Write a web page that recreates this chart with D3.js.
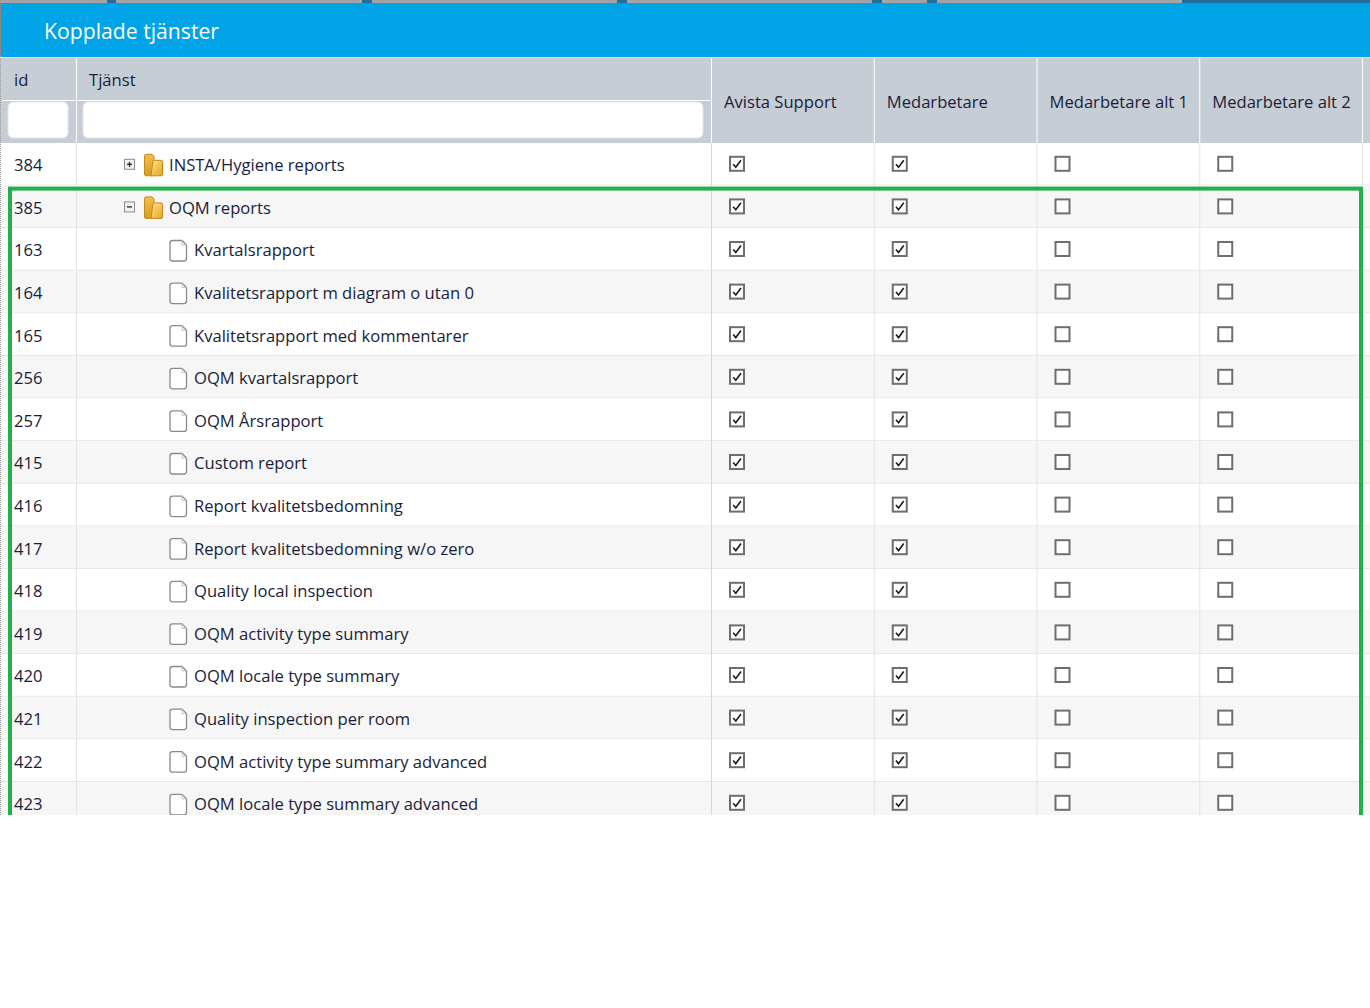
<!DOCTYPE html>
<html>
<head>
<meta charset="utf-8">
<script src="https://cdn.jsdelivr.net/npm/d3@7"></script>
<style>
  body { margin: 0; background: #fff; }
  svg { display: block; }
</style>
</head>
<body>
<div id="chart"></div>
<script>
// ---- data ----
const title = 'Kopplade tjänster';
const idHeader = 'id';
const nameHeader = 'Tjänst';
const roleColumns = ['Avista Support', 'Medarbetare', 'Medarbetare alt 1', 'Medarbetare alt 2'];

const ids = [384, 385, 163, 164, 165, 256, 257, 415, 416, 417, 418, 419, 420, 421, 422, 423];
const names = [
    'INSTA/Hygiene reports', 'OQM reports', 'Kvartalsrapport', 'Kvalitetsrapport m diagram o utan 0',
    'Kvalitetsrapport med kommentarer', 'OQM kvartalsrapport', 'OQM Årsrapport', 'Custom report',
    'Report kvalitetsbedomning', 'Report kvalitetsbedomning w/o zero', 'Quality local inspection',
    'OQM activity type summary', 'OQM locale type summary', 'Quality inspection per room',
    'OQM activity type summary advanced', 'OQM locale type summary advanced'
];
// 'folder-closed' | 'folder-open' | 'leaf'
const nodeTypes = [
    'folder-closed', 'folder-open', 'leaf', 'leaf', 'leaf', 'leaf', 'leaf', 'leaf',
    'leaf', 'leaf', 'leaf', 'leaf', 'leaf', 'leaf', 'leaf', 'leaf'
];
const avistaSupport     = [1, 1, 1, 1, 1, 1, 1, 1, 1, 1, 1, 1, 1, 1, 1, 1];
const medarbetare       = [1, 1, 1, 1, 1, 1, 1, 1, 1, 1, 1, 1, 1, 1, 1, 1];
const medarbetareAlt1   = [0, 0, 0, 0, 0, 0, 0, 0, 0, 0, 0, 0, 0, 0, 0, 0];
const medarbetareAlt2   = [0, 0, 0, 0, 0, 0, 0, 0, 0, 0, 0, 0, 0, 0, 0, 0];
const roleValues = [avistaSupport, medarbetare, medarbetareAlt1, medarbetareAlt2];
// rows wrapped by the green highlight frame
const highlightFrom = 385;

// ---- layout ----
const W = 1370, H = 1008;
const FONT = '"Open Sans", "Noto Sans", sans-serif';
const FS = 16.6;
const TEXT = '#1a1d38';
const barTop = 3, barBottom = 57;
const headTop = 57, headBottom = 143;
const clipBottom = 815;
const rowH = 42.6;
const idCol = [2, 76], nameCol = [76, 711];

const svg = d3.select('#chart').append('svg')
    .attr('width', W).attr('height', H)
    .attr('viewBox', `0 0 ${W} ${H}`);

const defs = svg.append('defs');
defs.append('clipPath').attr('id', 'table-clip')
    .append('rect').attr('x', 0).attr('y', 0).attr('width', W).attr('height', clipBottom);
const fg = defs.append('linearGradient').attr('id', 'folder-grad')
    .attr('x1', 0).attr('y1', 0).attr('x2', 1).attr('y2', 1);
fg.append('stop').attr('offset', '0%').attr('stop-color', '#ffe28a');
fg.append('stop').attr('offset', '100%').attr('stop-color', '#e6a526');
const fg2 = defs.append('linearGradient').attr('id', 'folder-back')
    .attr('x1', 0).attr('y1', 0).attr('x2', 0).attr('y2', 1);
fg2.append('stop').attr('offset', '0%').attr('stop-color', '#f3c14c');
fg2.append('stop').attr('offset', '100%').attr('stop-color', '#d89a1f');

const root = svg.append('g').attr('clip-path', 'url(#table-clip)');

// Scales
const yRow = d3.scaleBand().domain(ids.map(String))
    .range([headBottom, headBottom + ids.length * rowH]).padding(0);
const xRole = d3.scaleBand().domain(roleColumns).range([711, 1362]).padding(0);

// Top strip (window tabs behind the dialog)
const stripSegs = [[0, 107, '#a3a3a3'], [107, 116, '#1f6d9c'], [116, 362, '#a3a3a3'], [362, 372, '#1f6d9c'],
    [372, 617, '#a3a3a3'], [617, 627, '#1f6d9c'], [627, 872, '#a3a3a3'], [872, 882, '#1f6d9c'],
    [882, 927, '#a3a3a3'], [927, 937, '#1f6d9c'], [937, 1182, '#a3a3a3'], [1182, W, '#1f6d9c']];
root.selectAll('rect.strip').data(stripSegs).join('rect')
    .attr('class', 'strip')
    .attr('x', d => d[0]).attr('y', 0).attr('width', d => d[1] - d[0]).attr('height', barTop)
    .attr('fill', d => d[2]);

// Title bar
root.append('rect').attr('x', 0).attr('y', barTop).attr('width', W).attr('height', barBottom - barTop)
    .attr('fill', '#00a3e6');
root.append('text').attr('x', 44).attr('y', 39)
    .attr('font-family', FONT).attr('font-size', 21.2).attr('fill', '#fff')
    .text(title);

// Header
root.append('rect').attr('x', 0).attr('y', headTop).attr('width', W).attr('height', headBottom - headTop)
    .attr('fill', '#c6cdd5');
root.append('line').attr('x1', 0).attr('x2', W).attr('y1', headTop + 0.5).attr('y2', headTop + 0.5)
    .attr('stroke', '#e9edf1');
root.append('line').attr('x1', idCol[0]).attr('x2', nameCol[1]).attr('y1', 100.5).attr('y2', 100.5)
    .attr('stroke', '#ffffff');
const headSeps = [idCol[1], nameCol[1], ...roleColumns.map(c => xRole(c) + xRole.bandwidth())];
root.selectAll('line.hsep').data(headSeps).join('line')
    .attr('class', 'hsep')
    .attr('x1', d => d + 0.5).attr('x2', d => d + 0.5).attr('y1', headTop).attr('y2', headBottom)
    .attr('stroke', '#ffffff');

root.append('text').attr('x', 14).attr('y', 86)
    .attr('font-family', FONT).attr('font-size', FS).attr('fill', TEXT).text(idHeader);
root.append('text').attr('x', 89).attr('y', 86)
    .attr('font-family', FONT).attr('font-size', FS).attr('fill', TEXT).text(nameHeader);

// filter inputs
root.append('rect').attr('x', 8).attr('y', 102).attr('width', 60).attr('height', 36).attr('rx', 5)
    .attr('fill', '#fff').attr('stroke', '#e3e6ea');
root.append('rect').attr('x', 83).attr('y', 102).attr('width', 620).attr('height', 36).attr('rx', 5)
    .attr('fill', '#fff').attr('stroke', '#e3e6ea');

root.selectAll('text.role').data(roleColumns).join('text')
    .attr('class', 'role')
    .attr('x', d => xRole(d) + 13).attr('y', 108)
    .attr('font-family', FONT).attr('font-size', FS).attr('fill', TEXT)
    .text(d => d);

// Rows
const rows = ids.map((id, i) => ({
    id, name: names[i], type: nodeTypes[i], i,
    checks: roleValues.map(v => v[i])
}));

const rowG = root.selectAll('g.row').data(rows).join('g')
    .attr('class', 'row')
    .attr('transform', d => `translate(0,${yRow(String(d.id))})`);

rowG.append('rect').attr('x', 0).attr('y', 0).attr('width', W).attr('height', yRow.bandwidth())
    .attr('fill', d => d.i % 2 ? '#f6f6f6' : '#ffffff');
rowG.append('line').attr('x1', 0).attr('x2', W)
    .attr('y1', yRow.bandwidth() - 0.5).attr('y2', yRow.bandwidth() - 0.5)
    .attr('stroke', '#e6e6e6');

const cy = yRow.bandwidth() / 2;
rowG.append('text').attr('x', 14).attr('y', cy + 7)
    .attr('font-family', FONT).attr('font-size', FS).attr('fill', TEXT)
    .text(d => d.id);

// expand / collapse toggle + folder icon
const folders = rowG.filter(d => d.type !== 'leaf');
folders.append('rect').attr('x', 124.5).attr('y', cy - 5).attr('width', 10).attr('height', 10)
    .attr('fill', '#f2f2f2').attr('stroke', '#8c8c8c');
folders.append('line').attr('x1', 127).attr('x2', 132).attr('y1', cy).attr('y2', cy)
    .attr('stroke', '#222').attr('stroke-width', 1.3);
folders.filter(d => d.type === 'folder-closed').append('line')
    .attr('x1', 129.5).attr('x2', 129.5).attr('y1', cy - 2.5).attr('y2', cy + 2.5)
    .attr('stroke', '#222').attr('stroke-width', 1.3);

folders.append('path')
    .attr('d', `M146,${cy - 10} h6 l2,2 v18 a1.5,1.5 0 0 1 -1.5,1.5 h-6.5 a1.5,1.5 0 0 1 -1.5,-1.5 v-18.5 a1.5,1.5 0 0 1 1.5,-1.5 z`)
    .attr('fill', 'url(#folder-back)').attr('stroke', '#c7891a').attr('stroke-width', 1);
folders.append('path')
    .attr('d', `M153,${cy - 4} h8 a1.5,1.5 0 0 1 1.5,1.5 v12.5 a1.5,1.5 0 0 1 -1.5,1.5 h-10 z`)
    .attr('fill', 'url(#folder-grad)').attr('stroke', '#c7891a').attr('stroke-width', 1);

// leaf document icon
const leaves = rowG.filter(d => d.type === 'leaf');
leaves.append('path')
    .attr('d', `M172.5,${cy - 9} h9.5 l4.5,4.5 v13.5 a2.5,2.5 0 0 1 -2.5,2.5 h-11.5 a2.5,2.5 0 0 1 -2.5,-2.5 v-15.5 a2.5,2.5 0 0 1 2.5,-2.5 z`)
    .attr('fill', '#ffffff').attr('stroke', '#8a8a8a').attr('stroke-width', 1.3);
leaves.append('path')
    .attr('d', `M182,${cy - 9} v4.5 h4.5`)
    .attr('fill', 'none').attr('stroke', '#c0c0c0').attr('stroke-width', 1);

rowG.append('text')
    .attr('x', d => d.type === 'leaf' ? 194 : 169).attr('y', cy + 7)
    .attr('font-family', FONT).attr('font-size', FS).attr('fill', TEXT)
    .text(d => d.name);

// checkboxes
const cells = rowG.selectAll('g.cell')
    .data(d => d.checks.map((c, k) => ({ col: roleColumns[k], checked: c })))
    .join('g').attr('class', 'cell')
    .attr('transform', d => `translate(${xRole(d.col) + 19},${cy - 7.5})`);
cells.append('rect').attr('x', 0).attr('y', 0).attr('width', 14).attr('height', 14)
    .attr('fill', '#fff').attr('stroke', '#6e6e6e').attr('stroke-width', 2);
cells.filter(d => d.checked).append('path')
    .attr('d', 'M3.2,7.4 L5.8,10.4 L11,3.4')
    .attr('fill', 'none').attr('stroke', '#1a1a1a').attr('stroke-width', 1.6);

// vertical grid lines in body
const bodySeps = [idCol[1], nameCol[1], ...roleColumns.map(c => xRole(c) + xRole.bandwidth())];
root.selectAll('line.bsep').data(bodySeps).join('line')
    .attr('class', 'bsep')
    .attr('x1', d => d + 0.5).attr('x2', d => d + 0.5)
    .attr('y1', headBottom).attr('y2', clipBottom)
    .attr('stroke', d => d === nameCol[1] ? '#c9d9e8' : '#e4e4e4');

// left window edge (dotted)
root.append('line').attr('x1', 0.5).attr('x2', 0.5).attr('y1', 0).attr('y2', clipBottom)
    .attr('stroke', '#9a9a9a').attr('stroke-dasharray', '1,1');

// highlight frame around the expanded group
const frameTop = yRow(String(highlightFrom)) + 3;
root.append('rect')
    .attr('x', 10).attr('y', frameTop)
    .attr('width', 1351).attr('height', 900)
    .attr('fill', 'none').attr('stroke', '#22b04b').attr('stroke-width', 4);
</script>
</body>
</html>
